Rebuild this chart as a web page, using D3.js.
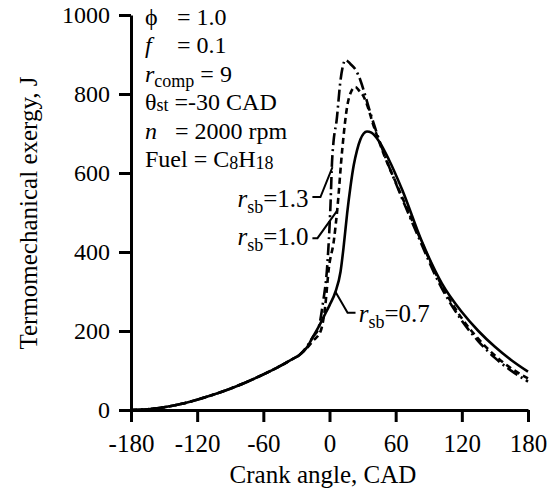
<!DOCTYPE html>
<html lang="en">
<head>
  <meta charset="UTF-8">
  <title>Termomechanical exergy</title>
  <script src="https://d3js.org/d3.v7.min.js"></script>
  <style>
    html, body { margin: 0; padding: 0; background: #fff; }
    svg { display: block; }
    .axis path, .axis line { stroke: #000; stroke-width: 3px; }
    .axis text { fill: #000; }
    .curve { fill: none; stroke: #000; stroke-width: 2.6px; }
    .leader { fill: none; stroke: #000; stroke-width: 2px; }
    .label { fill: #000; }
  </style>
</head>
<body>
  <svg id="chart" width="552" height="490"></svg>
  <script>
    const FONT = "'Liberation Serif', 'Times New Roman', serif";

    // Tick values
    const xTicks = [-180, -120, -60, 0, 60, 120, 180];
    const yTicks = [0, 200, 400, 600, 800, 1000];

    // Shared compression part (before ignition)
    const compression = [[-180, 0], [-165, 2], [-150, 7], [-135, 15], [-120, 26], [-105, 39],
      [-90, 54], [-75, 71], [-60, 90], [-45, 111], [-35, 127], [-27, 140]];

    // r_sb = 0.7 (solid)
    const rsb07 = [[-20, 160], [-15.7, 182], [-10, 210], [-3.6, 245], [0, 265], [5.5, 300],
      [10, 350], [13, 418], [16, 498], [19, 565], [22, 620], [25, 658], [28, 685], [31, 700],
      [34, 705], [38, 702], [45, 680], [54, 633], [66, 557], [84, 425], [102, 320], [120, 248],
      [135, 200], [150, 160], [165, 126], [180, 97]];

    // r_sb = 1.0 (dashed)
    const rsb10 = [[-20, 158], [-15, 175], [-8, 200], [-4, 260], [-0.6, 359], [4, 430], [7, 506],
      [11.5, 658], [16, 768], [19, 802], [23.5, 818], [27, 808], [31, 793], [35, 765], [39, 728],
      [43, 695], [50, 642], [60, 577], [80, 448], [100, 325], [120, 232], [135, 180], [150, 138],
      [165, 105], [180, 80]];

    // r_sb = 1.3 (dash-dot)
    const rsb13 = [[-20, 163], [-15, 185], [-10, 207], [-6, 270], [-2, 367], [0.9, 519],
      [2.3, 628], [3.6, 678], [6.4, 732], [10, 835], [14.5, 886], [19, 876], [24, 860], [28, 835],
      [32, 800], [36, 762], [43, 700], [50, 645], [60, 575], [80, 442], [100, 318], [120, 226],
      [135, 174], [150, 132], [165, 99], [180, 72]];

    const series = [
      { name: "1.3", data: compression.concat(rsb13), dash: "12,4,2,4" },
      { name: "1.0", data: compression.concat(rsb10), dash: "6,4" },
      { name: "0.7", data: compression.concat(rsb07), dash: null }
    ];

    // Leader lines and label anchors (data units)
    const leaders = [
      { name: "1.3", pts: [[-15.5, 539], [-8.2, 539], [2.7, 615]], at: [-19, 514], anchor: "end" },
      { name: "1.0", pts: [[-15.5, 435], [-10.9, 435], [7.3, 506]], at: [-19, 418], anchor: "end" },
      { name: "0.7", pts: [[5.5, 299], [16.4, 246], [23.6, 246]], at: [26.5, 223], anchor: "start" }
    ];

    const svg = d3.select("#chart").attr("font-family", FONT);
    const x = d3.scaleLinear().domain([-180, 180]).range([131, 528]);
    const y = d3.scaleLinear().domain([0, 1000]).range([410, 15]);

    // Axes
    svg.append("g")
      .attr("class", "axis")
      .attr("transform", "translate(0,410)")
      .call(d3.axisBottom(x).tickValues(xTicks).tickSize(12).tickSizeOuter(0).tickPadding(12)
        .tickFormat(d => String(d)))
      .attr("font-family", FONT)
      .attr("font-size", 25);

    svg.append("g")
      .attr("class", "axis")
      .attr("transform", "translate(131,0)")
      .call(d3.axisLeft(y).tickValues(yTicks).tickSize(12).tickSizeOuter(0).tickPadding(9)
        .tickFormat(d => String(d)))
      .attr("font-family", FONT)
      .attr("font-size", 24);

    // Axis titles
    svg.append("text")
      .attr("class", "label")
      .attr("font-size", 25)
      .attr("x", 323).attr("y", 483)
      .attr("text-anchor", "middle")
      .text("Crank angle, CAD");

    svg.append("text")
      .attr("class", "label")
      .attr("font-size", 25)
      .attr("transform", "translate(37,213) rotate(-90)")
      .attr("text-anchor", "middle")
      .text("Termomechanical exergy, J");

    // Curves
    const line = d3.line()
      .x(d => x(d[0]))
      .y(d => y(d[1]))
      .curve(d3.curveMonotoneX);

    svg.selectAll(".curve")
      .data(series)
      .enter().append("path")
      .attr("class", "curve")
      .attr("stroke-dasharray", d => d.dash)
      .attr("d", d => line(d.data));

    // Leaders
    const leaderLine = d3.line().x(d => x(d[0])).y(d => y(d[1]));
    svg.selectAll(".leader")
      .data(leaders)
      .enter().append("path")
      .attr("class", "leader")
      .attr("d", d => leaderLine(d.pts));

    leaders.forEach(l => {
      const t = svg.append("text")
        .attr("class", "label")
        .attr("font-size", 25)
        .attr("x", x(l.at[0])).attr("y", y(l.at[1]))
        .attr("text-anchor", l.anchor);
      t.append("tspan").attr("font-style", "italic").text("r");
      t.append("tspan").attr("font-size", 18).attr("dy", 6).text("sb");
      t.append("tspan").attr("dy", -6).text("=" + l.name);
    });

    // Parameter block
    const lx = 145, eqx = 177, lh = 28.4, firstY = 25;
    const params = svg.append("g").attr("font-size", 24);

    function row(i) {
      return params.append("text").attr("class", "label").attr("x", lx).attr("y", firstY + i * lh);
    }

    let t = row(0);
    t.append("tspan").text("\u03d5");
    t.append("tspan").attr("x", eqx).text("= 1.0");

    t = row(1);
    t.append("tspan").attr("font-style", "italic").text("f");
    t.append("tspan").attr("x", eqx).text("= 0.1");

    t = row(2);
    t.append("tspan").attr("font-style", "italic").text("r");
    t.append("tspan").attr("font-size", 18).attr("dy", 5).text("comp");
    t.append("tspan").attr("dy", -5).text(" = 9");

    t = row(3);
    t.append("tspan").text("\u03b8");
    t.append("tspan").attr("font-size", 18).attr("dy", 1).text("st");
    t.append("tspan").attr("dy", -1).text(" =-30 CAD");

    t = row(4);
    t.append("tspan").attr("font-style", "italic").text("n");
    t.append("tspan").attr("x", eqx - 2).text("= 2000 rpm");

    t = row(5);
    t.append("tspan").text("Fuel = C");
    t.append("tspan").attr("font-size", 18).attr("dy", 2).text("8");
    t.append("tspan").attr("dy", -2).text("H");
    t.append("tspan").attr("font-size", 18).attr("dy", 2).text("18");
  </script>
</body>
</html>
